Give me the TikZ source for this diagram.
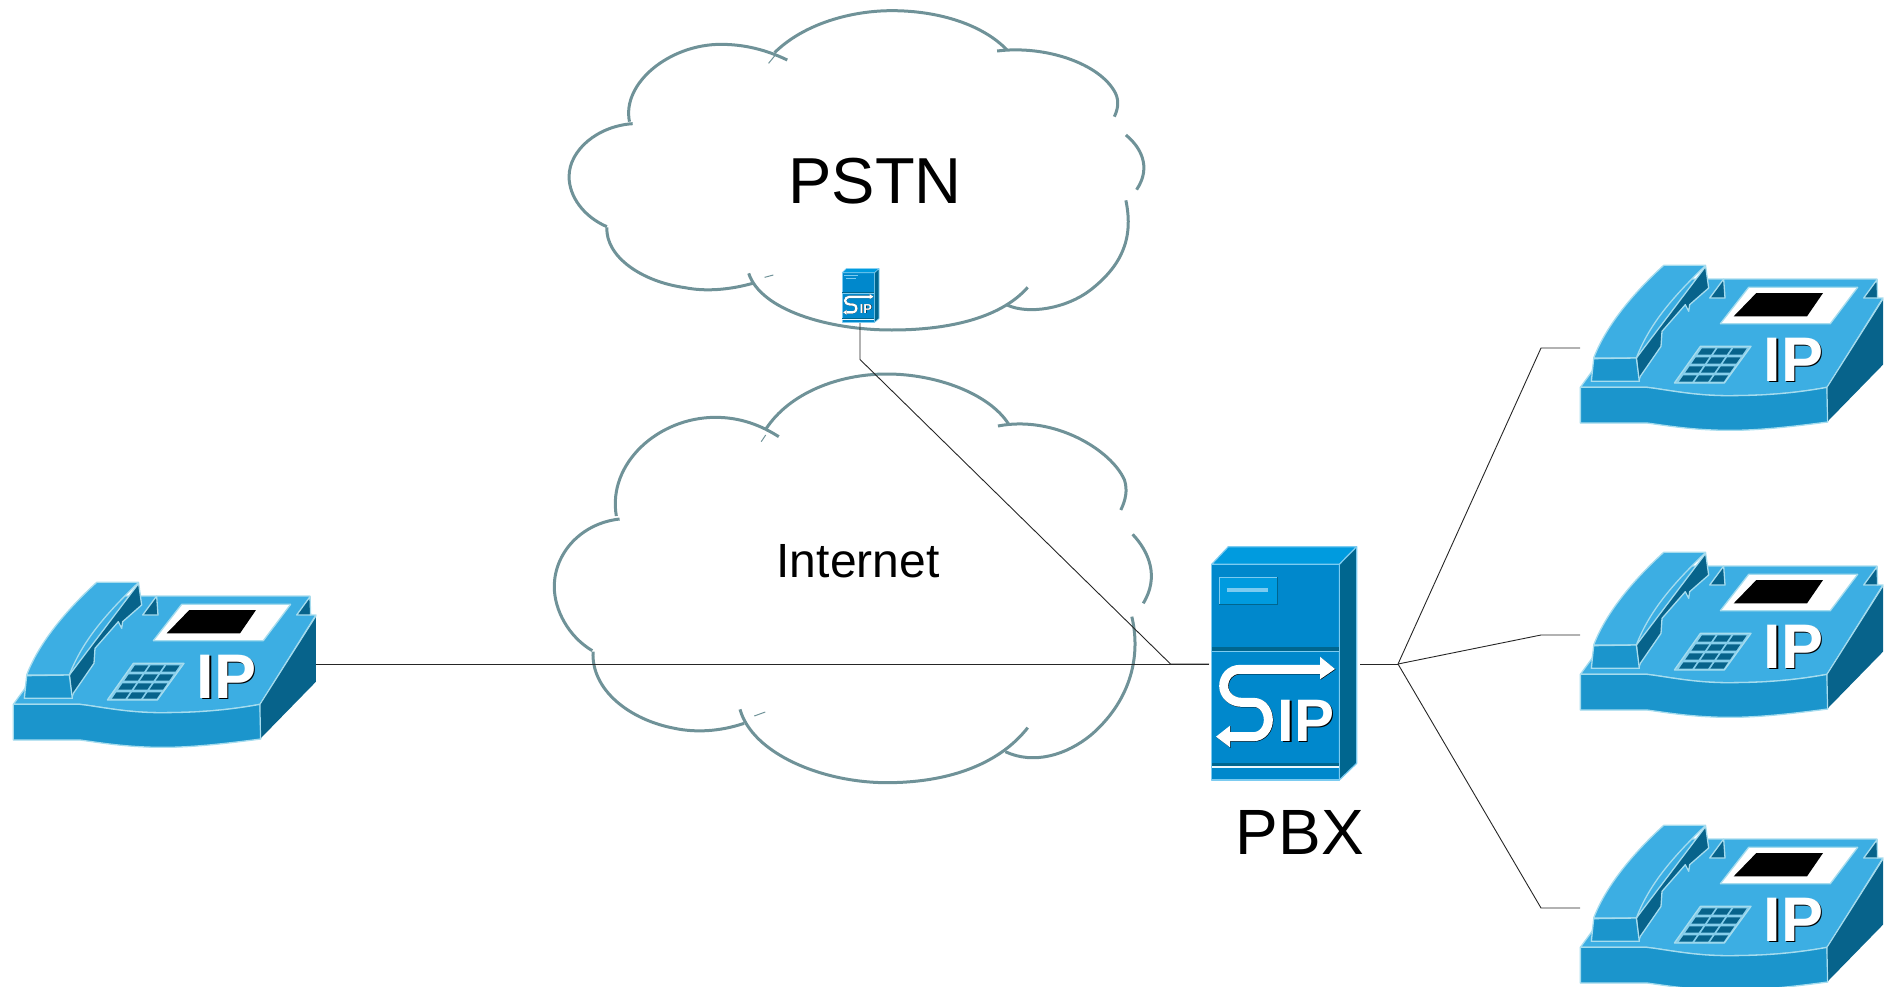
\documentclass[tikz,border=0pt]{standalone}
\usepackage{fontspec}
\setmainfont{Liberation Sans}
\definecolor{phTop}{HTML}{3CAEE3}
\definecolor{phFront}{HTML}{1B95CC}
\definecolor{phDark}{HTML}{07638B}
\definecolor{phEdge}{HTML}{A6DCEE}
\definecolor{twFront}{HTML}{0088CC}
\definecolor{twTop}{HTML}{009BDF}
\definecolor{twDark}{HTML}{00668F}
\definecolor{twEdge}{HTML}{7CCBF0}
\definecolor{cloudTeal}{HTML}{6F9298}
\tikzset{
  cloudline/.style={draw=cloudTeal,line width=3pt,line cap=butt},
  wire/.style={draw=black!85,line width=.9pt,line join=miter},
  anchorbox/.style={inner sep=0pt,outer sep=0pt,draw=none,fill=none},
  label/.style={inner sep=0pt,anchor=base,text=black},
  phFace/.style={line width=1.3pt,draw=phEdge,line join=round},
  twFace/.style={line width=#1,draw=twEdge,line join=round},
  pics/deskphone/.style={code={
    % top face
    \path[phFace,fill=phTop] (40,433) -- (75,385) -- (85,345) -- (300,108) -- (470,108) -- (520,108) -- (930,108) -- (930,165) -- (948,165) -- (780,433)
      .. controls (660,455) and (560,458) .. (480,458) .. controls (380,458) and (300,440) .. (240,433) -- cycle;
    % front
    \path[phFace,fill=phFront] (40,433) -- (240,433) .. controls (300,440) and (380,458) .. (480,458) .. controls (560,458) and (660,455) .. (780,433)
      -- (782,537) .. controls (660,553) and (570,562) .. (490,562) .. controls (380,562) and (300,548) .. (240,540) -- (40,540) -- cycle;
    % side
    \path[phFace,draw=none,fill=phDark] (948,168) -- (948,365) -- (782,535) -- (780,433) -- cycle;
    \draw[phEdge,line width=1pt] (948,168) -- (780,433) -- (782,537);
    % cradle triangles
    \path[phFace,fill=phDark] (428,165) -- (470,108) -- (474,165) -- cycle;
    \path[phFace,fill=phDark] (890,165) -- (930,110) -- (932,165) -- cycle;
    % screen
    \path[phFace,fill=white] (460,242) -- (545,133) -- (872,133) -- (790,242) -- cycle;
    \fill[black] (500,220) -- (568,150) -- (768,150) -- (720,220) -- cycle;
    % keypad
    \path[phFace,fill=phEdge!70!phTop] (400,310) -- (552,310) -- (472,420) -- (322,420) -- cycle;
    \foreach \r in {0,1,2,3}{
      \foreach \c in {0,1,2}{
        \pgfmathsetmacro{\ya}{316+\r*27}
        \pgfmathsetmacro{\yb}{\ya+19}
        \pgfmathsetmacro{\xa}{405+47*\c-0.69*(\ya-316)}
        \pgfmathsetmacro{\xb}{405+47*\c-0.69*(\yb-316)}
        \fill[phDark] (\xa,\ya) -- (\xa+40,\ya) -- (\xb+40,\yb) -- (\xb,\yb) -- cycle;
      }
    }
    % handset
    \path[phFace,fill=phDark] (416,70) -- (425,135) -- (368,185) -- (365,205) -- (355,185) -- (285,265) -- (282,310) -- (220,400) -- (215,415) -- (208,345) -- cycle;
    \path[phFace,fill=phTop] (80,345) .. controls (120,240) and (210,140) .. (290,67) -- (416,67) .. controls (330,150) and (250,235) .. (208,345) -- cycle;
    \path[phFace,fill=phFront] (80,347) -- (208,345) -- (217,415) -- (73,415) -- cycle;
    % lettering
    \node[inner sep=0pt,anchor=base,text=black] (ipshadow) at (684,418) {\fontsize{63}{70}\selectfont\bfseries IP};
    \node[inner sep=0pt,anchor=base,text=white] (iptext) at (680,415) {\fontsize{63}{70}\selectfont\bfseries IP};
  }},
  pics/siptower/.style args={#1/#2/#3}{code={
    \path[twFace=#3,fill=twFront] (65,103) -- (448,103) -- (448,750) -- (65,750) -- cycle;
    \path[twFace=#3,fill=twTop] (65,103) -- (115,50) -- (500,50) -- (448,103) -- cycle;
    \path[twFace=#3,fill=twDark] (448,103) -- (500,50) -- (500,700) -- (448,750) -- cycle;
    \fill[twDark] (67,350) rectangle (446,362);
    \fill[twEdge] (67,362) rectangle (446,366);
    \fill[twDark] (65,699) rectangle (446,709);
    \fill[white!85!twEdge] (65,709) rectangle (446,713);
    % S arrow: shadow then white
    \foreach \ox/\oy/\col in {1.5*#2/1.5*#2/black,0/0/white}{
      \begin{scope}[shift={(\ox,\oy)}]
        \draw[\col,line width=#2*9pt,line cap=butt]
          (395,418) -- (150,418) .. controls (120,418) and (101,442) .. (101,468)
          .. controls (101,495) and (125,517) .. (155,517) -- (190,517)
          .. controls (220,517) and (235,545) .. (235,570) .. controls (235,598) and (215,620) .. (190,620) -- (118,620);
        \fill[\col] (390,380) -- (435,417) -- (390,448) -- cycle;
        \fill[\col] (120,587) -- (78,620) -- (120,652) -- cycle;
      \end{scope}
    }
    \node[inner sep=0pt,anchor=base,text=black] (ipshadow) at (352,638) {\fontsize{#1}{#1}\selectfont\bfseries IP};
    \node[inner sep=0pt,anchor=base,text=white] (iptext) at (347,635) {\fontsize{#1}{#1}\selectfont\bfseries IP};
  }}
}
\begin{document}
\begin{tikzpicture}[x=1pt,y=-1pt]
\useasboundingbox (0,0) rectangle (1894,986);
\clip (0,0) rectangle (1894,986);

% PSTN cloud
\begin{scope}[shift={(550,0)},xscale=1/2.516,yscale=1/3]
  \draw[cloudline] (565,158) .. controls (640,70) and (760,32) .. (860,32) .. controls (980,32) and (1090,75) .. (1150,150);
  \draw[cloudline] (1125,153) .. controls (1245,135) and (1385,190) .. (1423,280) .. controls (1433,305) and (1428,330) .. (1420,350);
  \draw[cloudline] (1449,405) .. controls (1485,440) and (1515,500) .. (1476,569);
  \draw[cloudline] (1449,601) .. controls (1470,720) and (1435,800) .. (1360,870) .. controls (1300,925) and (1205,945) .. (1150,915);
  \draw[cloudline] (1202,862) .. controls (1130,960) and (990,990) .. (860,990) .. controls (700,990) and (530,930) .. (500,820);
  \draw[cloudline] (510,850) .. controls (450,870) and (390,875) .. (340,863) .. controls (230,845) and (140,770) .. (143,682);
  \draw[cloudline] (143,680) .. controls (85,650) and (48,590) .. (48,530) .. controls (48,450) and (120,378) .. (208,371);
  \draw[cloudline] (200,365) .. controls (180,250) and (300,133) .. (430,133) .. controls (490,133) and (545,150) .. (597,180);
  \draw[cloudTeal,line width=1pt] (550,190) -- (565,168);
  \draw[cloudTeal,line width=1pt] (540,832) -- (562,825);
\end{scope}

% Internet cloud
\begin{scope}[shift={(540,360)},xscale=1/2.45,yscale=1/3]
  \draw[cloudline] (553,208) .. controls (610,100) and (730,42) .. (850,42) .. controls (970,42) and (1100,100) .. (1148,192);
  \draw[cloudline] (1122,198) .. controls (1260,165) and (1400,270) .. (1432,360) .. controls (1440,390) and (1435,420) .. (1423,450);
  \draw[cloudline] (1452,523) .. controls (1492,575) and (1518,650) .. (1478,730);
  \draw[cloudline] (1450,770) .. controls (1475,900) and (1440,1030) .. (1350,1125) .. controls (1290,1185) and (1210,1215) .. (1140,1175);
  \draw[cloudline] (1195,1103) .. controls (1120,1220) and (990,1268) .. (850,1268) .. controls (690,1268) and (520,1180) .. (490,1048);
  \draw[cloudline] (500,1090) .. controls (440,1115) and (380,1118) .. (330,1105) .. controls (220,1080) and (125,990) .. (130,875);
  \draw[cloudline] (128,872) .. controls (70,830) and (35,750) .. (35,680) .. controls (35,580) and (100,490) .. (195,477);
  \draw[cloudline] (187,468) .. controls (165,310) and (290,172) .. (430,172) .. controls (490,172) and (540,195) .. (585,230);
  \draw[cloudTeal,line width=1pt] (542,245) -- (553,225);
  \draw[cloudTeal,line width=1pt] (525,1068) -- (552,1056);
\end{scope}

% Icons' footprints, used as connector ends
\node[anchorbox,minimum width=303pt,minimum height=166pt] (phoneA) at (164.5,664) {};
\node[anchorbox,minimum width=303pt,minimum height=166pt] (phoneT) at (1731.5,348) {};
\node[anchorbox,minimum width=303pt,minimum height=166pt] (phoneM) at (1731.5,635) {};
\node[anchorbox,minimum width=303pt,minimum height=166pt] (phoneB) at (1731.5,908) {};
\node[anchorbox,minimum width=151pt,minimum height=232pt] (pbx) at (1284.5,664) {};
\node[anchorbox,minimum width=36pt,minimum height=55pt] (pstnsip) at (860,294.5) {};

\coordinate (kneeA) at (860,359.5);
\coordinate (kneeB) at (1170.5,664);
\coordinate (hub) at (1398,664);
\coordinate (bendT) at (1541,348);
\coordinate (bendM) at (1541,635);
\coordinate (bendB) at (1541,908);

% Connectors
\draw[wire] (phoneA.east) -- (pbx.west);
\draw[wire] (pstnsip.south) -- (kneeA) -- (kneeB) -- (pbx.west);
\draw[wire] (pbx.east) -- (hub);
\draw[wire] (hub) -- (bendT) -- (phoneT.west);
\draw[wire] (hub) -- (bendM) -- (phoneM.west);
\draw[wire] (hub) -- (bendB) -- (phoneB.west);

% Icons
\pic[scale=1/3] (telA) at (0,560) {deskphone};
\pic[scale=1/3] (telT) at (1567,243) {deskphone};
\pic[scale=1/3] (telM) at (1567,530) {deskphone};
\pic[scale=1/3] (telB) at (1567,803) {deskphone};

\pic[scale=1/3] (sipbig) at (1190,530) {siptower={60/1/1.2pt}};
\fill[twTop] (1219,577) rectangle (1277,604);
\draw[twEdge,line width=1pt] (1219,604) -- (1219,577) -- (1277,577);
\draw[twDark,line width=1pt] (1277,577) -- (1277,604) -- (1219,604);
\fill[twEdge] (1227,588) rectangle (1268,592);

\pic[xscale=.085,yscale=.0767] (sipsmall) at (836.5,264.8) {siptower={13/.26/.6pt}};
\draw[twEdge,line width=.7pt] (844,275) -- (857.5,275);
\draw[twEdge,line width=.7pt] (846,278.5) -- (856,278.5);

% Labels
\node[label] (pstnlabel) at (875,203) {\fontsize{65}{72}\selectfont PSTN};
\node[label] (netlabel) at (858,577) {\fontsize{48}{54}\selectfont Internet};
\node[label] (pbxlabel) at (1300,854) {\fontsize{64}{70}\selectfont PBX};
\end{tikzpicture}
\end{document}
